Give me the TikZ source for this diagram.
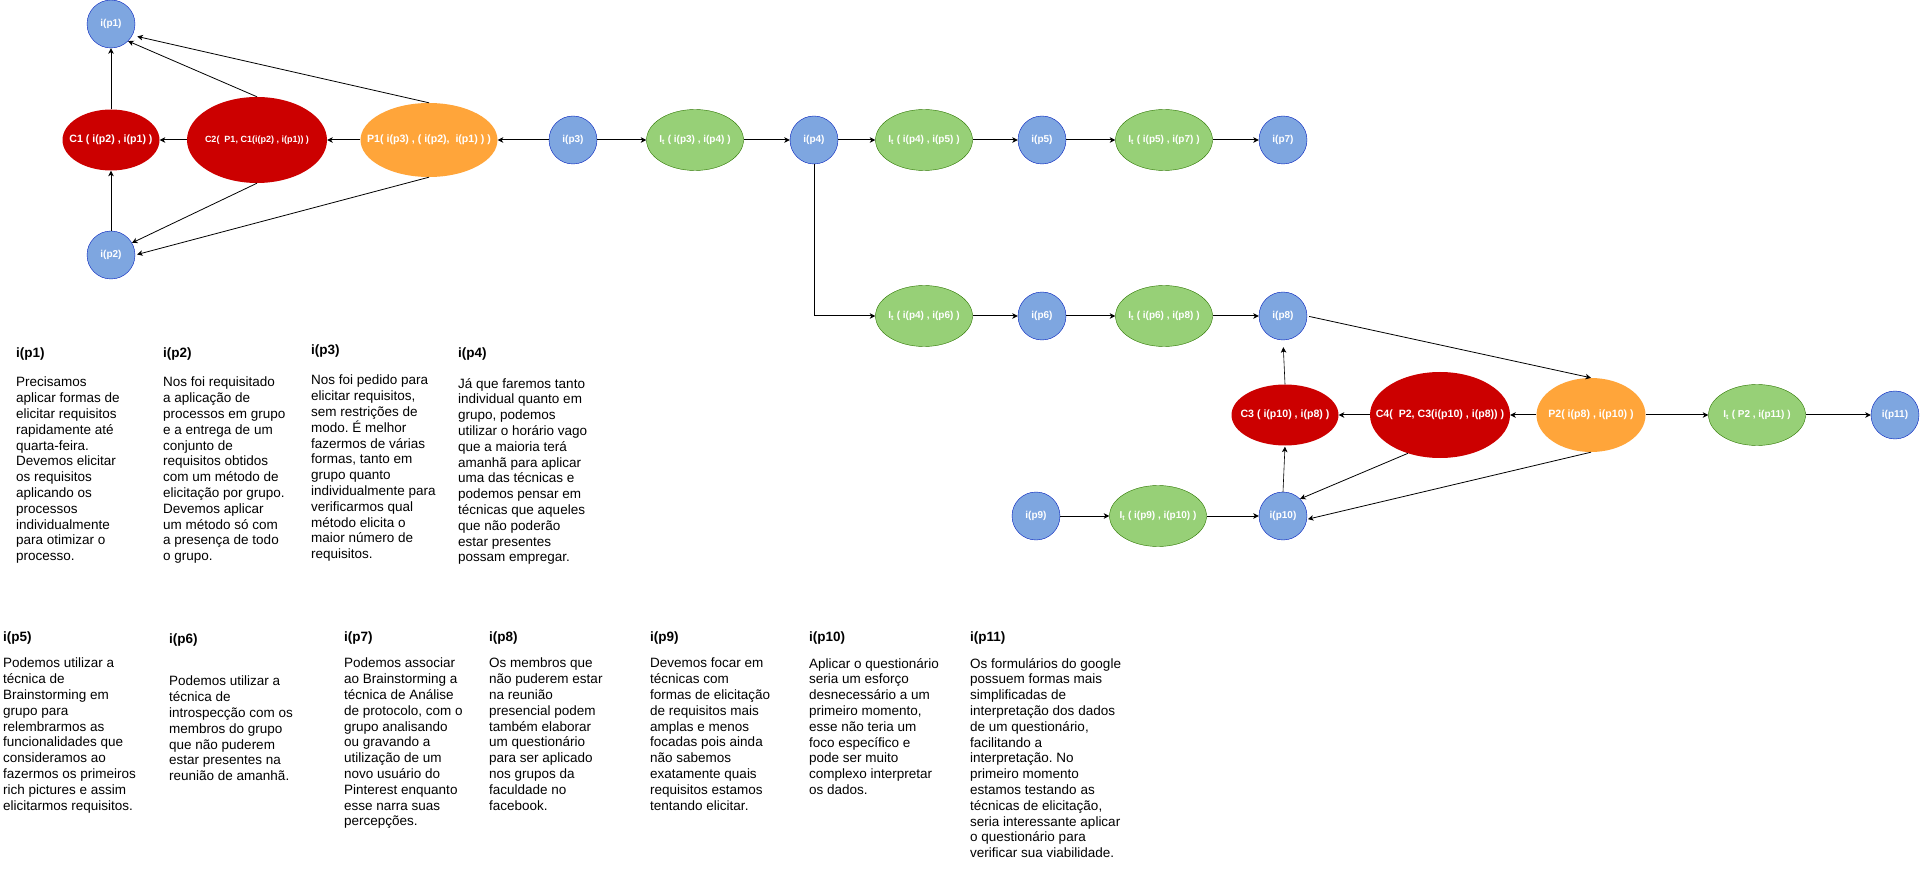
\documentclass[tikz,border=0pt]{standalone}
\usepackage{fontspec}
\setmainfont{Liberation Sans}
\usetikzlibrary{shapes.geometric, arrows.meta}
\definecolor{azul}{HTML}{7EA6E0}
\definecolor{azulb}{HTML}{001DBC}
\definecolor{verde}{HTML}{97D077}
\definecolor{verdeb}{HTML}{2D7600}
\definecolor{vermelho}{HTML}{CC0000}
\definecolor{laranja}{HTML}{FFA53A}
\newcommand{\rotulo}[1]{\makebox[0pt]{#1}}

\begin{document}
\begin{tikzpicture}[x=1pt, y=-1pt]
	\tikzset{info/.style={ellipse, draw=azulb, fill=azul, text=white, font=\fontsize{10}{12}\bfseries, minimum width=48pt, minimum height=48pt, inner sep=0pt},
	interp/.style={ellipse, draw=verdeb, fill=verde, text=white, font=\fontsize{10}{12}\bfseries, minimum width=97pt, minimum height=61pt, inner sep=0pt},
	conflito/.style={ellipse, fill=vermelho, text=white, font=\fontsize{10.6}{12}\bfseries, inner sep=0pt},
	processo/.style={ellipse, fill=laranja, text=white, font=\fontsize{10.6}{12}\bfseries, inner sep=0pt},
	titulo/.style={anchor=north west, inner sep=0pt, font=\fontsize{13.5}{16}\bfseries},
	texto/.style={anchor=north west, inner sep=0pt, align=left, font=\fontsize{13.5}{15.8}\selectfont\frenchspacing},
	seta/.style={line width=1pt, >={Stealth[length=5.5pt, width=5.5pt, inset=1.5pt]}, ->},
	fina/.style={line width=0.8pt, >={Stealth[length=5.5pt, width=5.5pt, inset=1.5pt]}, ->}};
	\useasboundingbox (0,0) rectangle (1920,882);

	\foreach \name/\x/\y in {p1/111/24, p2/111/255, p3/573/140, p4/814/140, p5/1042/140, p7/1283/140, p6/1042/316, p8/1283/316, p9/1036/516, p10/1283/516, p11/1895/415}{
		\node[info] (\name) at (\x, \y) {\rotulo{i(\name)}};
	}

	\foreach \name/\x/\y/\a/\b in {t34/695/140/i(p3)/i(p4), t45/924/140/i(p4)/i(p5), t57/1164/140/i(p5)/i(p7), t46/924/316/i(p4)/i(p6), t68/1164/316/i(p6)/i(p8), t910/1158/516/i(p9)/i(p10), t211/1757/415/P2/i(p11)}{
		\node[interp] (\name) at (\x, \y) {\rotulo{I\textsubscript{t} ( \a\ , \b\ )}};
	}

	\node[conflito, minimum width=97pt, minimum height=61pt] (c1) at (111, 140) {\rotulo{C1 ( i(p2) , i(p1) )}};
	\node[conflito, minimum width=140pt, minimum height=86pt, font=\fontsize{9}{11}\bfseries] (c2) at (257, 140) {\rotulo{C2(\ \ P1, C1(i(p2) , i(p1)) )}};
	\node[processo, minimum width=137pt, minimum height=74pt] (q1) at (429, 140) {\rotulo{P1( i(p3) , ( i(p2),\ \ i(p1) ) )}};
	\node[conflito, minimum width=107pt, minimum height=61pt] (c3) at (1285, 415) {\rotulo{C3 ( i(p10) , i(p8) )}};
	\node[conflito, minimum width=140pt, minimum height=86pt] (c4) at (1440, 415) {\rotulo{C4(\ \ P2, C3(i(p10) , i(p8)) )}};
	\node[processo, minimum width=109pt, minimum height=74pt] (q2) at (1591, 415) {\rotulo{P2( i(p8) , i(p10) )}};

	\foreach \a/\b in {p3/q1, q1/c2, c2/c1, c1/p1, p2/c1, p3/t34, t34/p4, p4/t45, t45/p5, p5/t57, t57/p7, t46/p6, p6/t68, t68/p8, p9/t910, t910/p10, q2/c4, c4/c3, q2/t211, t211/p11}{
		\draw[seta] (\a) -- (\b);
	}
	\draw[seta] (p4.south) |- (t46);
	\draw[fina] (c2.north) -- (p1.-45);
	\draw[fina, shorten >=5pt] (q1.north) -- (p1.-28);
	\draw[fina] (c2.south) -- (p2.30);
	\draw[fina, shorten >=2pt] (q1.south) -- (p2.east);
	\draw[fina, shorten <=2pt] (p8.east) -- (q2.north);
	\draw[fina] (c4.-130) -- (p10.45);
	\draw[fina, shorten >=1pt] (q2.south) -- (p10.-8);
	\draw[fina, line width=0.6pt, shorten >=7pt] (c3.north) -- (p8.south);
	\draw[fina, line width=0.6pt, shorten >=1pt] (p10.north) -- (c3.south);

	% textos de cima
	\node[titulo] (h1) at (16, 348) {i(p1)};
	\node[texto] (b1) at (16, 377) {Precisamos\\aplicar formas de\\elicitar requisitos\\rapidamente até\\quarta-feira.\\Devemos elicitar\\os requisitos\\aplicando os\\processos\\individualmente\\para otimizar o\\processo.};
	\node[titulo] (h2) at (163, 348) {i(p2)};
	\node[texto] (b2) at (163, 377) {Nos foi requisitado\\a aplicação de\\processos em grupo\\e a entrega de um\\conjunto de\\requisitos obtidos\\com um método de\\elicitação por grupo.\\Devemos aplicar\\um método só com\\a presença de todo\\o grupo.};
	\node[titulo] (h3) at (311, 345) {i(p3)};
	\node[texto] (b3) at (311, 375) {Nos foi pedido para\\elicitar requisitos,\\sem restrições de\\modo. É melhor\\fazermos de várias\\formas, tanto em\\grupo quanto\\individualmente para\\verificarmos qual\\método elicita o\\maior número de\\requisitos.};
	\node[titulo] (h4) at (458, 348) {i(p4)};
	\node[texto] (b4) at (458, 378) {Já que faremos tanto\\individual quanto em\\grupo, podemos\\utilizar o horário vago\\que a maioria terá\\amanhã para aplicar\\uma das técnicas e\\podemos pensar em\\técnicas que aqueles\\que não poderão\\estar presentes\\possam empregar.};

	% textos de baixo
	\node[titulo] (h5) at (3, 632) {i(p5)};
	\node[texto] (b5) at (3, 658) {Podemos utilizar a\\técnica de\\Brainstorming em\\grupo para\\relembrarmos as\\funcionalidades que\\consideramos ao\\fazermos os primeiros\\rich pictures e assim\\elicitarmos requisitos.};
	\node[titulo] (h6) at (169, 634) {i(p6)};
	\node[texto] (b6) at (169, 676) {Podemos utilizar a\\técnica de\\introspecção com os\\membros do grupo\\que não puderem\\estar presentes na\\reunião de amanhã.};
	\node[titulo] (h7) at (344, 632) {i(p7)};
	\node[texto] (b7) at (344, 658) {Podemos associar\\ao Brainstorming a\\técnica de Análise\\de protocolo, com o\\grupo analisando\\ou gravando a\\utilização de um\\novo usuário do\\Pinterest enquanto\\esse narra suas\\percepções.};
	\node[titulo] (h8) at (489, 632) {i(p8)};
	\node[texto] (b8) at (489, 658) {Os membros que\\não puderem estar\\na reunião\\presencial podem\\também elaborar\\um questionário\\para ser aplicado\\nos grupos da\\faculdade no\\facebook.};
	\node[titulo] (h9) at (650, 632) {i(p9)};
	\node[texto] (b9) at (650, 658) {Devemos focar em\\técnicas com\\formas de elicitação\\de requisitos mais\\amplas e menos\\focadas pois ainda\\não sabemos\\exatamente quais\\requisitos estamos\\tentando elicitar.};
	\node[titulo] (h10) at (809, 632) {i(p10)};
	\node[texto] (b10) at (809, 658) {Aplicar o questionário\\seria um esforço\\desnecessário a um\\primeiro momento,\\esse não teria um\\foco específico e\\pode ser muito\\complexo interpretar\\os dados.};
	\node[titulo] (h11) at (970, 632) {i(p11)};
	\node[texto] (b11) at (970, 658) {Os formulários do google\\possuem formas mais\\simplificadas de\\interpretação dos dados\\de um questionário,\\facilitando a\\interpretação. No\\primeiro momento\\estamos testando as\\técnicas de elicitação,\\seria interessante aplicar\\o questionário para\\verificar sua viabilidade.};
\end{tikzpicture}
\end{document}
